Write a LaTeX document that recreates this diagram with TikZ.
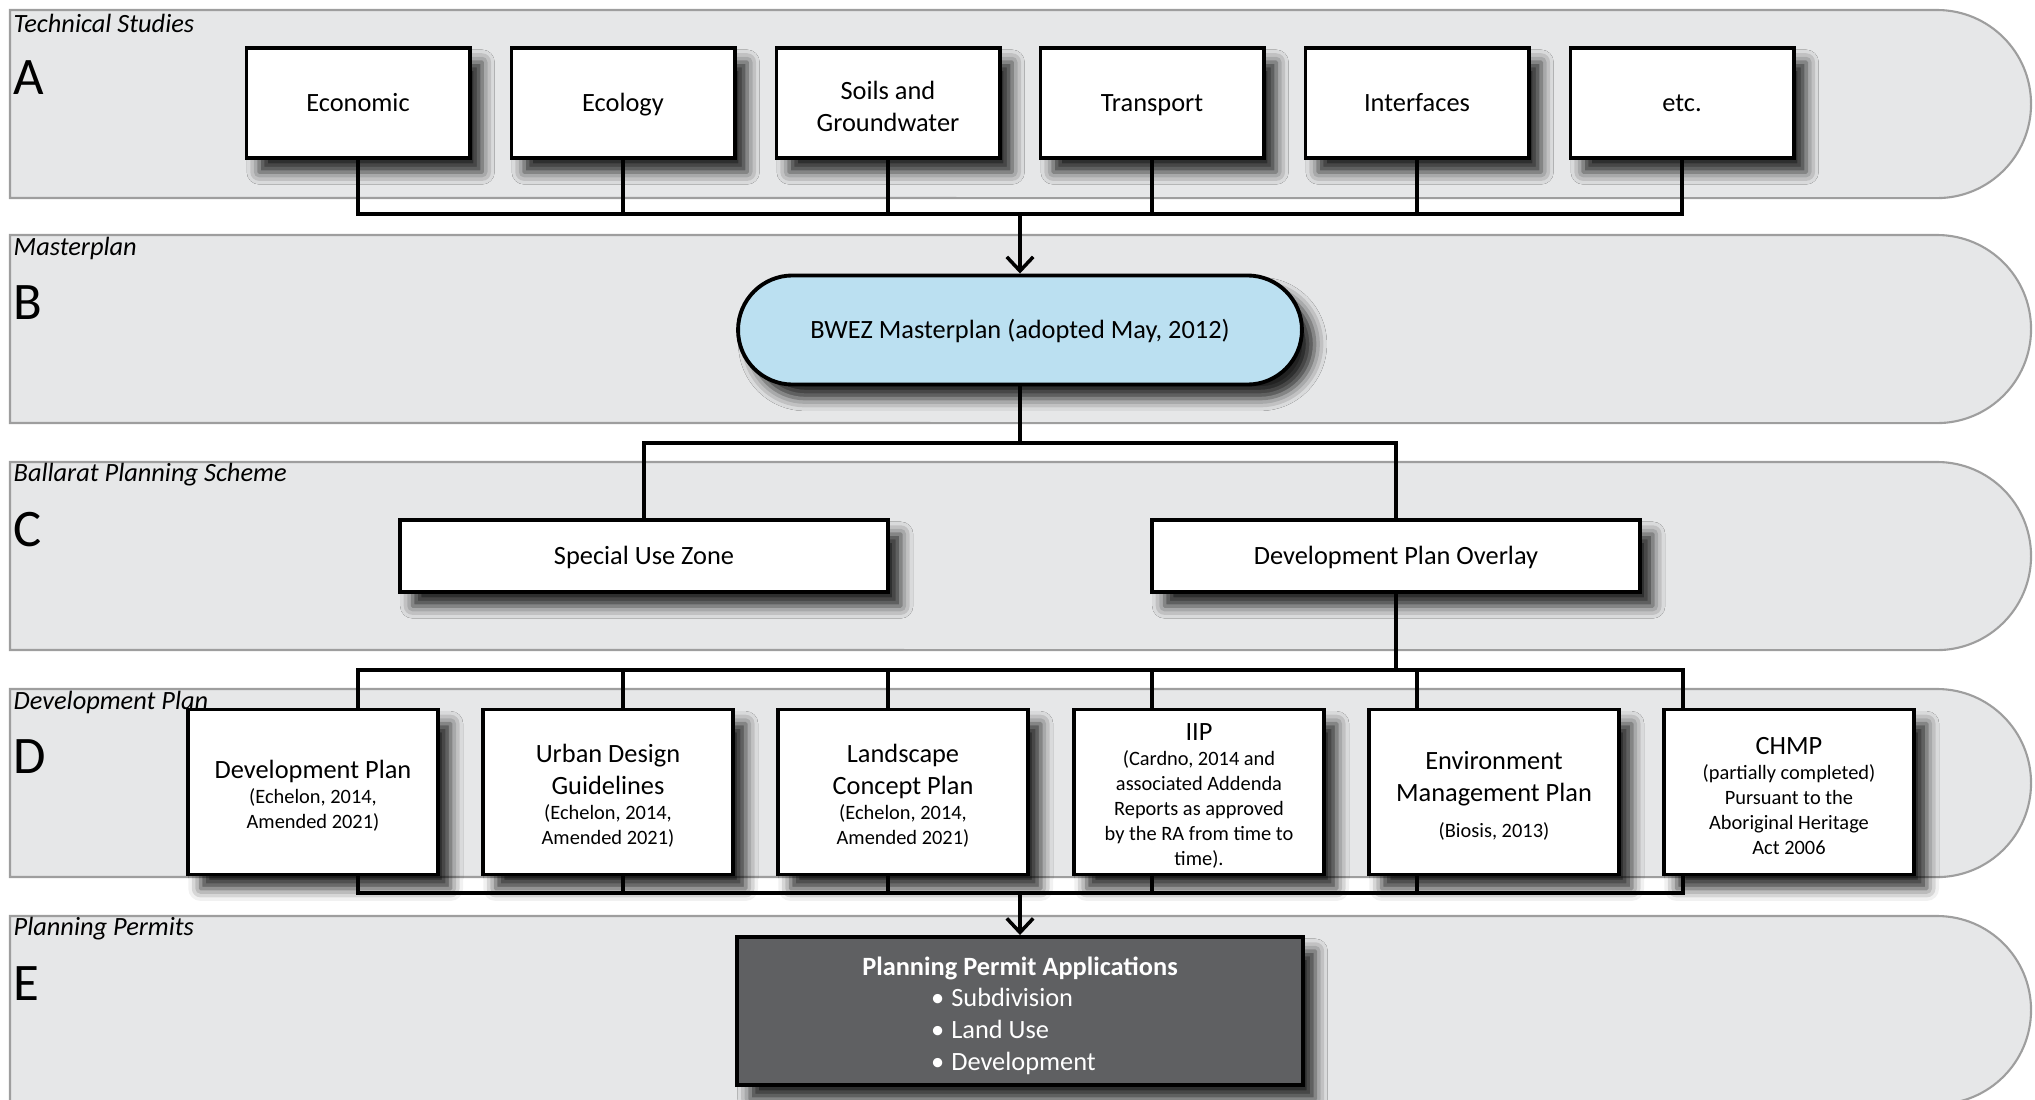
\documentclass[tikz,border=0pt]{standalone}
\usepackage{fontspec}
\setmainfont{Carlito}
\usetikzlibrary{arrows.meta,shapes.misc,shadows.blur}
\definecolor{bandfill}{RGB}{230,231,232}
\definecolor{bandline}{RGB}{158,158,158}
\definecolor{mpblue}{RGB}{187,224,241}
\definecolor{ppgray}{RGB}{95,96,98}
\newcommand{\subf}{\fontsize{5.8}{7.1}\selectfont}
\newcommand{\mainf}{\fontsize{7.5}{9.2}\selectfont}
\newcommand{\topstrut}[1]{\rule{0pt}{#1}}
\begin{document}
\begin{tikzpicture}[x=0.01cm,y=-0.01cm,
  band/.style={fill=bandfill,draw=bandline,line width=0.6pt},
  bandlab/.style={anchor=west,inner sep=0pt,font=\fontsize{7.5}{8.5}\selectfont\itshape},
  bandletter/.style={anchor=west,inner sep=0pt,font=\fontsize{15}{17}\selectfont},
  sh/.style={blur shadow={shadow xshift=3.6pt,shadow yshift=-4pt,shadow blur radius=3.5pt,shadow opacity=85}},
  oneline/.style={text height=6.4pt,text depth=1.8pt},
  boxA/.style={draw=black,line width=1.1pt,fill=white,sh,minimum width=2.23cm,minimum height=1.1cm,align=center,font=\mainf,inner sep=1pt},
  boxC/.style={draw=black,line width=1.1pt,fill=white,sh,minimum width=4.88cm,minimum height=0.72cm,align=center,font=\mainf,inner sep=1pt,oneline},
  boxD/.style={draw=black,line width=1.1pt,fill=white,sh,text width=2.34cm,inner xsep=0.08cm,inner ysep=1pt,minimum height=1.65cm,align=flush center,font=\mainf},
  mpbox/.style={rounded rectangle,draw=black,line width=1.1pt,fill=mpblue,sh,minimum width=5.87cm,minimum height=1.09cm,font=\mainf,oneline},
  ppbox/.style={draw=black,line width=1.1pt,fill=ppgray,sh,text=white,minimum width=5.65cm,minimum height=1.48cm,align=center,font=\mainf,inner ysep=0pt},
  conn/.style={draw=black,line width=1pt,line cap=rect},
  arr/.style={draw=black,line width=1pt,-{Straight Barb[length=4pt,width=7.5pt,line width=1pt]}}
]
\useasboundingbox (0,0) rectangle (2035,1100);
% bands
\foreach \t/\lab/\lt in {10/Technical Studies/A,235/Masterplan/B,462/Ballarat Planning Scheme/C,689/Development Plan/D,916/Planning Permits/E}{
  \draw[band] (10,\t) -- (1937,\t) arc[start angle=90,end angle=-90,radius=0.94cm] -- (10,\t+188) -- cycle;
  \node[bandlab] at (13,\t+13) {\lab};
  \node[bandletter] at (13,\t+68) {\lt};
}
% row A
\node[boxA,oneline] (ta1) at (358,103) {Economic};
\node[boxA,oneline] (ta2) at (623,103) {Ecology};
\node[boxA] (ta3) at (888,103) {\topstrut{7pt}Soils and\\Groundwater};
\node[boxA,oneline] (ta4) at (1152,103) {Transport};
\node[boxA,oneline] (ta5) at (1417,103) {Interfaces};
\node[boxA,oneline] (ta6) at (1682,103) {etc.};
% masterplan
\node[mpbox] (mp) at (1020,330) {BWEZ Masterplan (adopted May, 2012)};
% row C
\node[boxC] (suz) at (644,556) {Special Use Zone};
\node[boxC] (dpo) at (1396,556) {Development Plan Overlay};
% row D
\node[boxD] (d1) at (313,792) {\topstrut{7.2pt}Development Plan\par{\subf (Echelon, 2014,\\Amended 2021)\par}};
\node[boxD] (d2) at (608,792) {\topstrut{7.2pt}Urban Design\\Guidelines\par{\subf (Echelon, 2014,\\Amended 2021)\par}};
\node[boxD] (d3) at (903,792) {\topstrut{7.2pt}Landscape\\Concept Plan\par{\subf (Echelon, 2014,\\Amended 2021)\par}};
\node[boxD] (d4) at (1199,792) {\topstrut{7.2pt}IIP\par{\subf (Cardno, 2014 and\\associated Addenda\\Reports as approved\\by the RA from time to\\time).\par}};
\node[boxD] (d5) at (1494,792) {\topstrut{7.2pt}Environment\\Management Plan\par\vspace{3pt}{\subf (Biosis, 2013)\par}};
\node[boxD] (d6) at (1789,792) {\topstrut{7.2pt}CHMP\par{\subf (partially completed)\\Pursuant to the\\Aboriginal Heritage\\Act 2006\par}};
% row E
\node[ppbox] (pp) at (1020,1011) {\topstrut{9.7pt}\textbf{Planning Permit Applications}\\\begin{tabular}{@{}l@{}}•\hspace{2pt}Subdivision\\•\hspace{2pt}Land Use\\•\hspace{2pt}Development\end{tabular}\hspace*{0.13cm}};
% connectors A -> B
\coordinate (busA) at (1020,214);
\foreach \i in {1,...,6}{\draw[conn] (ta\i.south) -- (ta\i.south |- busA);}
\draw[conn] (ta1.south |- busA) -- (ta6.south |- busA);
\draw[arr] (busA) -- (mp.north);
% B -> C
\coordinate (busB) at (1020,443);
\draw[conn] (mp.south) -- (busB);
\draw[conn] (suz.north |- busB) -- (dpo.north |- busB);
\draw[conn] (suz.north |- busB) -- (suz.north);
\draw[conn] (dpo.north |- busB) -- (dpo.north);
% C -> D
\foreach \i/\x in {1/358,2/623,3/888,4/1152,5/1417,6/1683}{
  \coordinate (c\i) at (\x,670);
  \coordinate (e\i) at (\x,893);
}
\draw[conn] (dpo.south) -- (dpo.south |- c1);
\draw[conn] (c1) -- (c6);
\draw[conn] (e1) -- (e6);
\foreach \i in {1,...,6}{
  \draw[conn] (c\i) -- (c\i |- d\i.north);
  \draw[conn] (c\i |- d\i.south) -- (e\i);
}
\coordinate (busE) at (1020,893);
\draw[arr] (busE) -- (pp.north);
\end{tikzpicture}
\end{document}
